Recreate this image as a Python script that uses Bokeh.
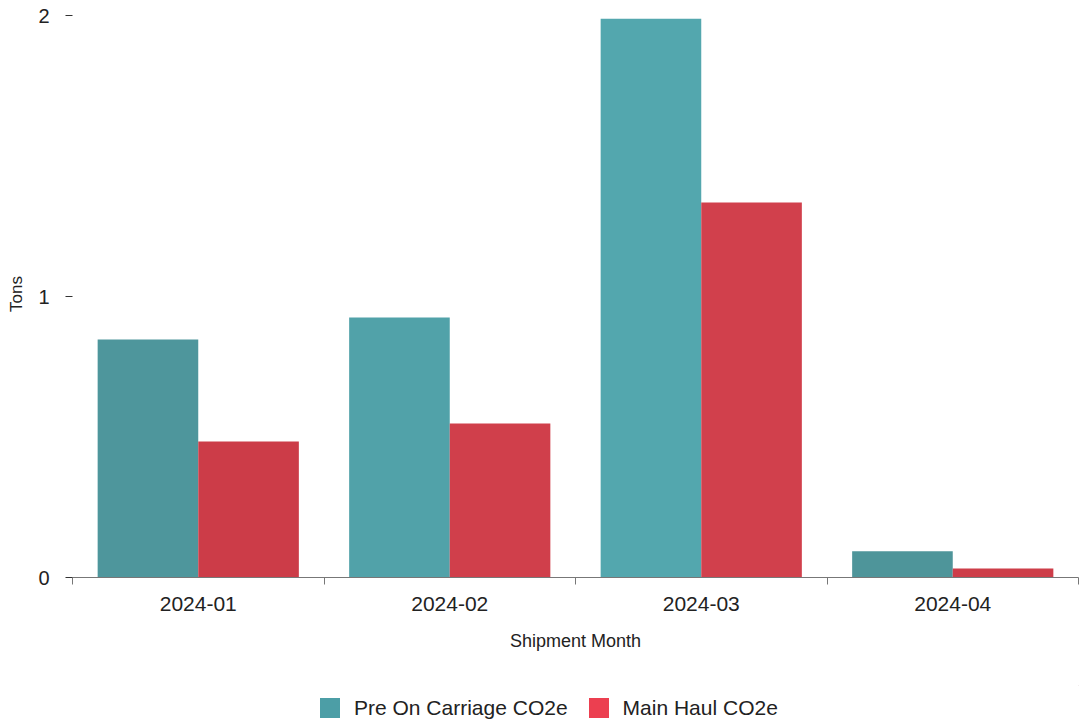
from bokeh.plotting import figure
from bokeh.models import ColumnDataSource, FixedTicker, Range1d, Legend, LegendItem
from bokeh.layouts import column
from bokeh.transform import dodge
from bokeh.embed import file_html
from bokeh.resources import INLINE

months = ["2024-01", "2024-02", "2024-03", "2024-04"]
pre_on_carriage = [0.847, 0.925, 1.989, 0.093]
main_haul = [0.484, 0.548, 1.335, 0.032]
series_names = ["Pre On Carriage CO2e", "Main Haul CO2e"]
y_ticks = [0, 1, 2]

FONT = "Liberation Sans"
# slight shading per bar, imitating the reference's lighting gradient
teal_shades = ["#4e969c", "#51a2a9", "#53a7ae", "#4e959a"]
red_shades = ["#cc3c48", "#d03f4b", "#d1404c", "#cd3d49"]
TEAL_LEG = "#4c9ea6"
RED_LEG = "#ec3f50"

pos = [i + 0.5 for i in range(len(months))]
src = ColumnDataSource(dict(x=pos, pre=pre_on_carriage, main=main_haul, m=months,
                            tc=teal_shades, rc=red_shades))

p = figure(width=1080, height=685, output_backend="svg", toolbar_location=None,
           x_range=Range1d(0, len(months)), y_range=Range1d(0, 2.018),
           min_border_left=72, min_border_right=2, min_border_top=10, min_border_bottom=108)
p.outline_line_color = None
p.grid.visible = False
p.background_fill_color = "white"

p.vbar(x=dodge("x", -0.2), top="pre", width=0.4, source=src,
       fill_color="tc", line_color=None)
p.vbar(x=dodge("x", 0.2), top="main", width=0.4, source=src,
       fill_color="rc", line_color=None)

xa = p.xaxis[0]
xa.ticker = FixedTicker(ticks=pos, minor_ticks=list(range(len(months) + 1)))
xa.major_label_overrides = {pv: m for pv, m in zip(pos, months)}
xa.major_tick_out = 0
xa.major_tick_in = 0
xa.minor_tick_out = 7
xa.minor_tick_in = 0
xa.minor_tick_line_color = "#777777"
xa.axis_line_color = "#777777"
xa.major_label_text_font = FONT
xa.major_label_text_font_size = "21px"
xa.major_label_text_color = "#222222"
xa.major_label_standoff = 12
xa.axis_label = "Shipment Month"
xa.axis_label_text_font = FONT
xa.axis_label_text_font_size = "18px"
xa.axis_label_text_font_style = "normal"
xa.axis_label_text_color = "#222222"
xa.axis_label_standoff = 17

ya = p.yaxis[0]
ya.ticker = FixedTicker(ticks=y_ticks, minor_ticks=[])
ya.axis_line_color = None
ya.major_tick_out = 7
ya.major_tick_in = 0
ya.major_tick_line_color = "#333333"
ya.minor_tick_out = 0
ya.minor_tick_in = 0
ya.major_label_text_font = FONT
ya.major_label_text_font_size = "20px"
ya.major_label_text_color = "#222222"
ya.major_label_standoff = 16
ya.axis_label = "Tons"
ya.axis_label_text_font = FONT
ya.axis_label_text_font_size = "17px"
ya.axis_label_text_font_style = "normal"
ya.axis_label_text_color = "#222222"
ya.axis_label_standoff = 9

# legend strip below the chart (swatch glyphs sit outside the visible range)
q = figure(width=1080, height=39, output_backend="svg", toolbar_location=None,
           x_range=Range1d(0, 1), y_range=Range1d(0, 1),
           x_axis_location=None, y_axis_location=None, min_border=0)
q.outline_line_color = None
q.grid.visible = False
e = ColumnDataSource(dict(x=[10], top=[10]))
l1 = q.vbar(x="x", top="top", bottom=9, width=0.4, source=e, fill_color=TEAL_LEG, line_color=None)
l2 = q.vbar(x="x", top="top", bottom=9, width=0.4, source=e, fill_color=RED_LEG, line_color=None)
legend = Legend(items=[LegendItem(label=series_names[0], renderers=[l1]),
                       LegendItem(label=series_names[1], renderers=[l2])],
                location=(245, 4), orientation="horizontal",
                glyph_width=25, glyph_height=25, padding=2, margin=0,
                spacing=18, label_standoff=12,
                label_text_font=FONT, label_text_font_size="21px",
                label_text_color="#222222",
                border_line_color=None, background_fill_alpha=0)
q.add_layout(legend, "center")

layout = column(p, q, spacing=0)
open("out.html", "w").write(file_html(layout, INLINE))
